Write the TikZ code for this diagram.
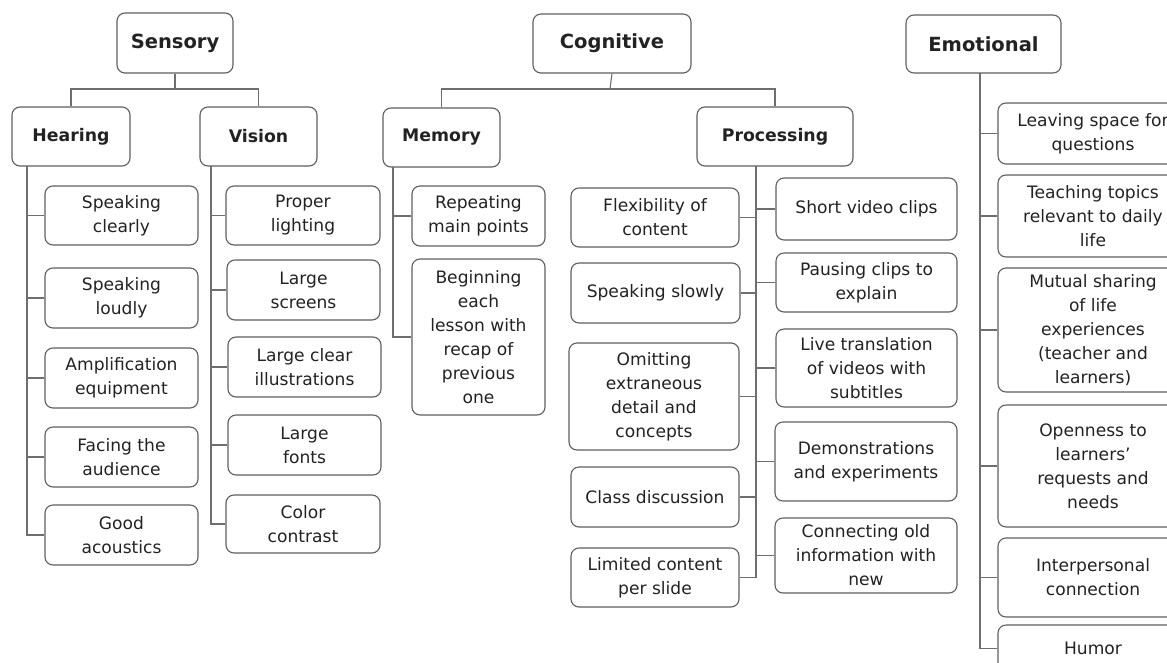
\documentclass[tikz,border=0pt]{standalone}
\usepackage{fontspec}
\setmainfont{DejaVu Sans}
\definecolor{boxline}{HTML}{5E5E5E}
\definecolor{conline}{HTML}{6E6E6E}
\definecolor{txt}{HTML}{222222}
\newcommand\mkbox[7][leaf]{\node[#1, minimum width={#5-#3}, minimum height={#6-#4}] (#2) at ({(#3+#5)/2},{(#4+#6)/2}) {#7};}
\begin{document}
\begin{tikzpicture}[x=1pt,y=-1pt,
  leaf/.style={draw=boxline, line width=1.1pt, rounded corners=8pt, inner sep=0pt, align=center, text=txt,
    font=\fontsize{17.1}{24}\selectfont},
  head/.style={leaf, font=\bfseries\fontsize{19.5}{22}\selectfont},
  sub/.style={leaf, font=\bfseries\fontsize{17.3}{20}\selectfont},
  con/.style={draw=conline, line width=1.1pt}]
\useasboundingbox (0,0) rectangle (1167,662);
\clip (0,0) rectangle (1167,662);
% ---- Sensory
\mkbox[head]{sens}{117}{13}{233}{73}{Sensory}
\mkbox[sub]{hear}{12}{107}{130}{166}{Hearing}
\mkbox[sub]{vis}{200}{107}{317}{166}{Vision}
\mkbox{h1}{45}{186}{198}{245}{Speaking\\clearly}
\mkbox{h2}{45}{268}{198}{328}{Speaking\\loudly}
\mkbox{h3}{45}{348}{198}{408}{Amplification\\equipment}
\mkbox{h4}{45}{427}{198}{487}{Facing the\\audience}
\mkbox{h5}{45}{505}{198}{565}{Good\\acoustics}
\mkbox{v1}{226}{186}{380}{245}{Proper\\lighting}
\mkbox{v2}{227}{260}{380}{320}{Large\\screens}
\mkbox{v3}{228}{337}{381}{397}{Large clear\\illustrations}
\mkbox{v4}{228}{415}{381}{475}{Large\\fonts}
\mkbox{v5}{226}{495}{380}{553}{Color\\contrast}
% ---- Cognitive
\mkbox[head]{cog}{533}{14}{691}{73}{Cognitive}
\mkbox[sub]{mem}{383}{108}{500}{167}{Memory}
\mkbox[sub]{proc}{697}{107}{853}{166}{Processing}
\mkbox{m1}{412}{186}{545}{246}{Repeating\\main points}
\mkbox{m2}{412}{259}{545}{415}{Beginning\\each\\lesson with\\recap of\\previous\\one}
\mkbox{pl1}{571}{188}{739}{247}{Flexibility of\\content}
\mkbox{pl2}{571}{263}{740}{323}{Speaking slowly}
\mkbox{pl3}{569}{343}{739}{450}{Omitting\\extraneous\\detail and\\concepts}
\mkbox{pl4}{571}{467}{739}{527}{Class discussion}
\mkbox{pl5}{571}{548}{739}{607}{Limited content\\per slide}
\mkbox{pr1}{776}{178}{957}{240}{Short video clips}
\mkbox{pr2}{776}{253}{957}{312}{Pausing clips to\\explain}
\mkbox{pr3}{776}{329}{957}{407}{Live translation\\of videos with\\subtitles}
\mkbox{pr4}{775}{422}{957}{501}{Demonstrations\\and experiments}
\mkbox{pr5}{775}{518}{957}{593}{Connecting old\\information with\\new}
% ---- Emotional
\mkbox[head]{emo}{906}{15}{1061}{73}{Emotional}
\mkbox{e1}{998}{103}{1188}{164}{Leaving space for\\questions}
\mkbox{e2}{998}{175}{1188}{257}{Teaching topics\\relevant to daily\\life}
\mkbox{e3}{998}{268}{1188}{392}{Mutual sharing\\of life\\experiences\\(teacher and\\learners)}
\mkbox{e4}{998}{405}{1188}{527}{Openness to\\learners'\\requests and\\needs}
\mkbox{e5}{998}{538}{1188}{617}{Interpersonal\\connection}
\mkbox{e6}{998}{625}{1188}{672}{Humor}
% ---- connectors: Sensory
\coordinate (sj) at (175,89);
\draw[con] (sens.south) -- (sj);
\draw[con] (hear.north) |- (sj) -| (vis.north);
\coordinate (hs) at (27,166);
\draw[con] (hs) |- (h5.west);
\foreach \n in {h1,h2,h3,h4} \draw[con] (\n.west) -- (\n.west -| hs);
\coordinate (vs) at (211,166);
\draw[con] (vs) |- (v5.west);
\foreach \n in {v1,v2,v3,v4} \draw[con] (\n.west) -- (\n.west -| vs);
% ---- connectors: Cognitive
\coordinate (cj) at (610,89);
\draw[con] (cog.south) -- (cj);
\draw[con] (mem.north) |- (cj) -| (proc.north);
\coordinate (ms) at (393,167);
\draw[con] (ms) |- (m2.west);
\draw[con] (m1.west) -- (m1.west -| ms);
\coordinate (ps) at (756,166);
\draw[con] (ps) |- (pl5.east);
\foreach \n in {pl1,pl2,pl3,pl4} \draw[con] (\n.east) -- (\n.east -| ps);
\foreach \n in {pr1,pr2,pr3,pr4,pr5} \draw[con] (\n.west) -- (\n.west -| ps);
% ---- connectors: Emotional
\coordinate (es) at (980,73);
\draw[con] (es) |- (e6.west);
\foreach \n in {e1,e2,e3,e4,e5} \draw[con] (\n.west) -- (\n.west -| es);
\end{tikzpicture}
\end{document}
